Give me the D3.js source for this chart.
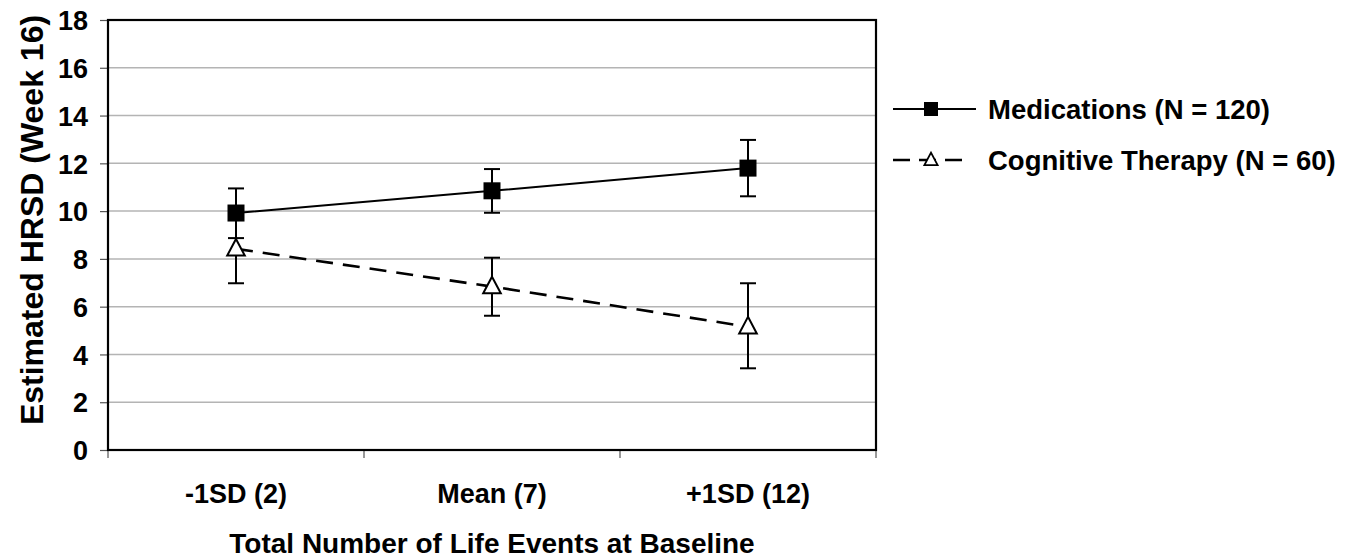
<!DOCTYPE html>
<html>
<head>
<meta charset="utf-8">
<script src="https://cdn.jsdelivr.net/npm/d3@7"></script>
<style>
  html, body { margin: 0; padding: 0; background: #fff; }
  svg { display: block; }
  text { font-family: "Liberation Sans", Arial, sans-serif; font-weight: bold; fill: #000; }
</style>
</head>
<body>
<svg id="chart" width="1355" height="558"></svg>
<script>
(function () {
  "use strict";

  // data
  const categories = ["-1SD (2)", "Mean (7)", "+1SD (12)"];
  const yTicks = [0, 2, 4, 6, 8, 10, 12, 14, 16, 18];

  const medMean = [9.92, 10.85, 11.80];
  const medLow = [8.87, 9.93, 10.62];
  const medHigh = [10.95, 11.76, 12.98];

  const ctMean = [8.42, 6.84, 5.16];
  const ctLow = [6.98, 5.62, 3.42];
  const ctHigh = [9.86, 8.05, 6.98];

  const seriesNames = ["Medications (N = 120)", "Cognitive Therapy (N = 60)"];

  const svg = d3.select("#chart");
  const m = { left: 108, right: 876, top: 20, bottom: 450 };

  const x = d3.scaleBand().domain(categories).range([m.left, m.right]).padding(0);
  const y = d3.scaleLinear().domain([0, 18]).range([m.bottom, m.top]);
  const cx = (c) => x(c) + x.bandwidth() / 2;

  // gridlines
  svg.append("g")
    .selectAll("line")
    .data(yTicks.filter((t) => t > 0 && t < 18))
    .join("line")
    .attr("x1", m.left).attr("x2", m.right)
    .attr("y1", (d) => y(d)).attr("y2", (d) => y(d))
    .attr("stroke", "#b4b4b4").attr("stroke-width", 1.5);

  // y axis
  const yAxis = svg.append("g")
    .attr("transform", `translate(${m.left},0)`)
    .call(d3.axisLeft(y).tickValues(yTicks).tickSize(8).tickPadding(12));
  yAxis.select(".domain").remove();
  yAxis.selectAll(".tick line").attr("stroke", "#555").attr("stroke-width", 1.2);
  yAxis.selectAll(".tick text")
    .attr("font-size", 27).attr("font-family", null).attr("dy", "0.36em");

  // x axis ticks at band boundaries
  const bounds = [m.left].concat(categories.map((c) => x(c) + x.bandwidth()));
  svg.append("g")
    .selectAll("line")
    .data(bounds)
    .join("line")
    .attr("x1", (d) => d).attr("x2", (d) => d)
    .attr("y1", m.bottom).attr("y2", m.bottom + 8)
    .attr("stroke", "#555").attr("stroke-width", 1.2);

  svg.append("g")
    .selectAll("text")
    .data(categories)
    .join("text")
    .attr("x", (d) => cx(d))
    .attr("y", 503)
    .attr("text-anchor", "middle")
    .attr("font-size", 27)
    .text((d) => d);

  // plot frame
  svg.append("rect")
    .attr("x", m.left).attr("y", m.top)
    .attr("width", m.right - m.left).attr("height", m.bottom - m.top)
    .attr("fill", "none").attr("stroke", "#000").attr("stroke-width", 2.2);

  // axis titles
  svg.append("text")
    .attr("x", (m.left + m.right) / 2)
    .attr("y", 553)
    .attr("text-anchor", "middle")
    .attr("font-size", 28)
    .text("Total Number of Life Events at Baseline");

  svg.append("text")
    .attr("transform", "translate(43,220) rotate(-90)")
    .attr("text-anchor", "middle")
    .attr("font-size", 32)
    .text("Estimated HRSD (Week 16)");

  // error bars
  function errorBars(low, high) {
    const g = svg.append("g").attr("stroke", "#000").attr("stroke-width", 2);
    categories.forEach((c, i) => {
      g.append("line").attr("x1", cx(c)).attr("x2", cx(c)).attr("y1", y(low[i])).attr("y2", y(high[i]));
      g.append("line").attr("x1", cx(c) - 8).attr("x2", cx(c) + 8).attr("y1", y(low[i])).attr("y2", y(low[i]));
      g.append("line").attr("x1", cx(c) - 8).attr("x2", cx(c) + 8).attr("y1", y(high[i])).attr("y2", y(high[i]));
    });
  }
  errorBars(ctLow, ctHigh);
  errorBars(medLow, medHigh);

  const line = d3.line().x((d, i) => cx(categories[i])).y((d) => y(d));

  svg.append("path")
    .datum(ctMean)
    .attr("d", line)
    .attr("fill", "none").attr("stroke", "#000").attr("stroke-width", 2.6)
    .attr("stroke-dasharray", "17,10");

  svg.append("path")
    .datum(medMean)
    .attr("d", line)
    .attr("fill", "none").attr("stroke", "#000").attr("stroke-width", 2);

  const tri = (s) => `M0,${-s * 0.62}L${s * 0.55},${s * 0.42}L${-s * 0.55},${s * 0.42}Z`;

  svg.append("g")
    .selectAll("path")
    .data(ctMean)
    .join("path")
    .attr("transform", (d, i) => `translate(${cx(categories[i])},${y(d)})`)
    .attr("d", tri(16))
    .attr("fill", "#fff").attr("stroke", "#000").attr("stroke-width", 2);

  svg.append("g")
    .selectAll("rect")
    .data(medMean)
    .join("rect")
    .attr("x", (d, i) => cx(categories[i]) - 8.5)
    .attr("y", (d) => y(d) - 8.5)
    .attr("width", 17).attr("height", 17)
    .attr("fill", "#000");

  // legend
  const leg = svg.append("g");
  const legY = [109, 160];

  leg.append("line")
    .attr("x1", 893).attr("x2", 976).attr("y1", legY[0]).attr("y2", legY[0])
    .attr("stroke", "#000").attr("stroke-width", 2);
  leg.append("rect")
    .attr("x", 931 - 7).attr("y", legY[0] - 7).attr("width", 14).attr("height", 14)
    .attr("fill", "#000");

  leg.append("line")
    .attr("x1", 893).attr("x2", 962).attr("y1", legY[1]).attr("y2", legY[1])
    .attr("stroke", "#000").attr("stroke-width", 2.6)
    .attr("stroke-dasharray", "17,9");
  leg.append("path")
    .attr("transform", `translate(931,${legY[1]})`)
    .attr("d", tri(12))
    .attr("fill", "#fff").attr("stroke", "#000").attr("stroke-width", 1.8);

  leg.selectAll("text")
    .data(seriesNames)
    .join("text")
    .attr("x", 988)
    .attr("y", (d, i) => legY[i] + 10)
    .attr("font-size", 27.5)
    .text((d) => d);
})();
</script>
</body>
</html>
